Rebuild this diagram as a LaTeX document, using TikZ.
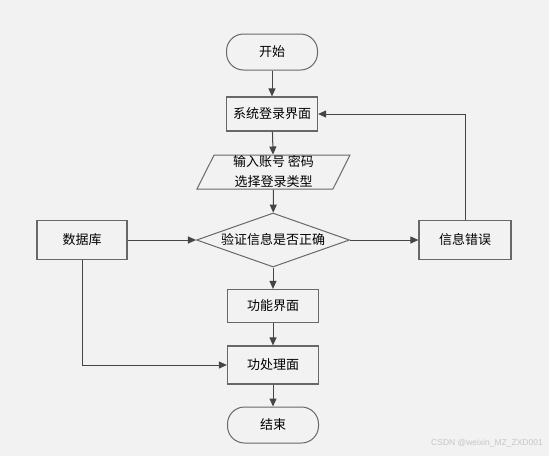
\documentclass[tikz,border=0pt]{standalone}
\usepackage{fontspec}
\newfontfamily\cjk{Noto Sans CJK SC}
\newfontfamily\wmfont{Liberation Sans}
\usepackage{tikz}
\usetikzlibrary{arrows.meta,positioning,shapes.geometric,calc}
\definecolor{bg}{HTML}{F2F2F2}
\definecolor{edge}{HTML}{454545}
\definecolor{frame}{HTML}{686868}

\begin{document}
\begin{tikzpicture}[x=1pt, y=-1pt,
  arr/.style={-{Triangle[length=8pt,width=7pt]}, draw=edge, line width=1pt},
  block/.style={rectangle, draw=frame, fill=bg, line width=1.2pt, minimum width=91pt,
                minimum height=34pt, inner sep=0pt, font=\cjk\fontsize{13}{15}\selectfont},
  term/.style={block, rounded corners=17pt, line width=1pt, minimum height=36pt},
  io/.style={block, trapezium, trapezium left angle=62, trapezium right angle=118,
             trapezium stretches body, line width=1pt, minimum width=153pt,
             minimum height=34pt, align=center, font=\cjk\fontsize{13}{20}\selectfont},
  decision/.style={block, diamond, aspect=2.8, line width=1pt, minimum width=153pt,
                   minimum height=54pt},
]
\useasboundingbox[fill=bg] (0,0) rectangle (549,456);

% main column
\node[term] (start) at (272,52) {开始};
\node[block] (login) at (272,114) {系统登录界面};
\node[io] (input) at (273.5,172) {输入账号 密码\\选择登录类型};
\node[decision] (check) at (273,240) {验证信息是否正确};
\node[block, minimum height=33pt] (func) at (273,306) {功能界面};
\node[block, minimum height=38pt] (proc) at (273,365) {功处理面};
\node[term] (stop) at (273,425) {结束};

% side boxes
\node[block, minimum width=90pt, minimum height=39pt] (db) at (82,240) {数据库};
\node[block, minimum width=92pt, minimum height=39pt] (err) at (465,240) {信息错误};

% flow
\draw[arr] (start) -- (login);
\draw[arr] (login) -- (input);
\draw[arr] (input) -- (check);
\draw[arr] (check) -- (func);
\draw[arr] (func) -- (proc);
\draw[arr] (proc) -- (stop);

% data and error paths
\draw[arr] (db) -- (check);
\draw[arr] (check) -- (err);
\draw[arr] (err.north) |- (login.east);
\draw[arr] (db.south) |- (proc.west);

% watermark
\node[font=\wmfont\fontsize{8.5}{10}\selectfont, text=gray!45] (mark) at (487,443) {CSDN @weixin\_MZ\_ZXD001};
\end{tikzpicture}
\end{document}
